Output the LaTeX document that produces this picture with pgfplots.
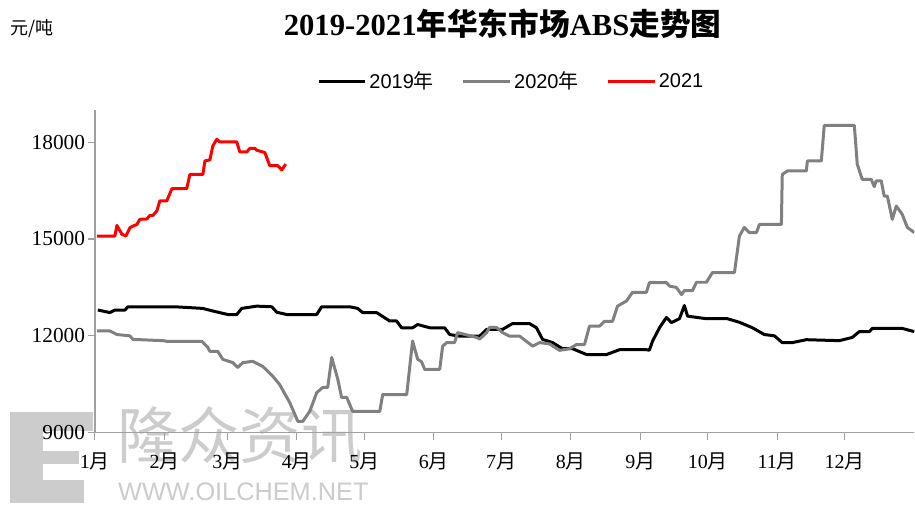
\documentclass[border=0pt]{standalone}
\usepackage{pgfplots}
\pgfplotsset{compat=1.18}
\usepackage{fontspec}
\setmainfont{Liberation Serif}
\newfontfamily\cjk{Noto Sans CJK SC}
\newfontfamily\lsans{Liberation Sans}
\definecolor{axgray}{RGB}{160,160,160}
\definecolor{s19}{RGB}{0,0,0}
\definecolor{s20}{RGB}{128,128,128}
\definecolor{s21}{RGB}{255,0,0}
\definecolor{wm}{RGB}{204,204,204}
\newcommand{\yue}{{\cjk 月}}
\begin{document}
\begin{tikzpicture}
\begin{scope}[x=0.75pt,y=-0.75pt,shift={(-71.25pt,324.75pt)}]
\path[use as bounding box] (0,0) rectangle (915,510);
% watermark logo
\fill[wm] (10,412) rectangle (93,431);
\fill[wm] (10,412) rectangle (43,503);
\fill[wm] (43,451) rectangle (79,464);
\fill[wm] (10,480) rectangle (84,503);
\node[anchor=west, text=wm, font=\cjk\fontsize{46pt}{46pt}\selectfont, inner sep=0pt] at (117,436) {隆众资讯};
\node[anchor=west, text=wm, font=\lsans\fontsize{19pt}{19pt}\selectfont, inner sep=0pt] at (118,492) {WWW.OILCHEM.NET};
\end{scope}
\begin{axis}[
  at={(0pt,0pt)}, anchor=south west, scale only axis,
  width=615pt, height=242.25pt,
  xmin=0, xmax=365, ymin=9000, ymax=19000,
  axis x line*=bottom, axis y line*=left,
  axis line style={-, draw=axgray, line width=1.1pt},
  xtick={0,31,59,90,120,151,181,212,243,273,304,334},
  xticklabels={1\yue,2\yue,3\yue,4\yue,5\yue,6\yue,7\yue,8\yue,9\yue,10\yue,11\yue,12\yue},
  ytick={9000,12000,15000,18000},
  scaled y ticks=false,
  tick align=outside, major tick length=5.25pt,
  tick style={draw=axgray, line width=0.8pt},
  /pgf/number format/assume math mode=true,
  /pgf/number format/1000 sep={},
  yticklabel style={font=\fontsize{16pt}{16pt}\selectfont, anchor=east, inner sep=0pt, xshift=-2pt},
  xticklabel style={font=\fontsize{15pt}{15pt}\selectfont, anchor=north, inner sep=0pt, yshift=-10pt},
  legend columns=3,
  legend style={at={(axis description cs:0.5085,1.088)}, anchor=center, draw=none, fill=none,
    font=\lsans\fontsize{15pt}{15pt}\selectfont,
    /tikz/every even column/.append style={column sep=19pt}},
  legend image code/.code={\draw[#1] (0pt,0pt) -- (35pt,0pt);},
  every axis plot/.append style={line width=2.25pt, line join=round, sharp plot},
]
\addplot[s19] coordinates {
(1.3,12800)(6.7,12720)(8.9,12800)(13.4,12800)(14.7,12900)(35.6,12900)(48,12850)
(52.5,12770)(59.2,12660)(63.2,12660)(65.4,12850)(72.1,12920)(78.8,12900)(81,12730)
(85.5,12660)(98.8,12660)(101,12900)(113.5,12900)(117,12850)(119.3,12720)(125.5,12720)
(131.3,12460)(134.4,12460)(136.6,12250)(141.5,12250)(143.8,12350)(149.1,12250)(155.8,12250)
(158,12040)(162.5,11990)(171.4,11990)(174.5,12200)(181.6,12200)(186,12380)(193.6,12380)
(196.7,12250)(199.4,11890)(203.9,11790)(208.3,11600)(212.8,11600)(219,11420)(227.9,11420)
(233.7,11570)(245.7,11570)(247,11555)(248.4,11835)(251.5,12250)(254.6,12570)(256.8,12410)
(260.4,12530)(262.6,12940)(264,12610)(272.4,12530)(281.8,12530)(287.1,12420)(292.9,12250)
(298.2,12040)(302.7,12000)(306.2,11790)(310.7,11790)(316.9,11880)(331.6,11850)(337.4,11950)
(340.5,12130)(345,12130)(346.3,12230)(359.6,12230)(365,12130)
};
\addlegendentry{2019{\cjk 年}}
\addplot[s20] coordinates {
(0.9,12150)(6.7,12150)(9.8,12040)(15.6,12000)(16.9,11890)(30.3,11850)(32,11830)(47.6,11830)
(50.3,11640)(51.2,11520)(54.7,11520)(57,11270)(61.4,11170)(63.6,11020)(65.9,11170)(70.3,11210)
(74.8,11050)(79.2,10750)(82.3,10490)(86.8,9930)(90.4,9350)(92.6,9350)(95.7,9660)(98.8,10240)
(101.5,10400)(103.7,10400)(105.5,11330)(108.2,10650)(109.9,10090)(112.2,10090)(114.8,9660)
(126.9,9660)(128.2,10180)(138.9,10180)(141.5,11840)(143.8,11270)(145.5,11200)(146.9,10960)
(153.6,10960)(154.9,11680)(156.7,11790)(160.2,11790)(161.6,12100)(170,11950)(171.4,11900)
(174.5,12100)(175.8,12260)(178.9,12260)(181.6,12100)(184.7,11990)(189.2,11990)(195,11680)
(198.1,11790)(202.5,11750)(207,11550)(211.4,11600)(214.5,11730)(218.1,11730)(220.3,12300)
(224.8,12300)(227,12450)(230.6,12450)(232.8,12920)(236.8,13080)(239.5,13350)(245.7,13350)
(247,13650)(254.6,13650)(256,13540)(259,13500)(261.3,13280)(262.6,13400)(266.2,13400)
(268,13660)(272.4,13660)(275.1,13960)(284.9,13960)(287.1,15090)(289.3,15360)(291.5,15200)
(294.7,15200)(296,15450)(305.8,15450)(306.2,17000)(308.5,17110)(316.9,17110)(317.4,17420)
(323.6,17420)(324.9,18520)(338.3,18520)(339.6,17320)(341.8,16850)(345.8,16850)(347.2,16620)
(348,16800)(350.3,16800)(351.6,16330)(353,16330)(355.2,15610)(357,16020)(359.6,15770)
(361.9,15360)(365,15200)
};
\addlegendentry{2020{\cjk 年}}
\addplot[s21] coordinates {
(0.9,15090)(8.9,15090)(9.8,15420)(12,15150)(13.8,15090)(15.6,15350)(16.9,15400)(18.7,15450)
(20,15610)(23.1,15620)(24.5,15730)(25.8,15730)(27.6,15870)(28.9,16180)(32,16180)(34.3,16560)
(40.9,16560)(42.3,17000)(48.1,17000)(49,17420)(51.2,17450)(52.5,17880)(54.3,18090)(55.6,18010)
(63.2,18010)(64.5,17700)(67.7,17700)(69,17810)(71.2,17810)(72.1,17750)(75.7,17680)(77.9,17270)
(81.5,17270)(83.2,17140)(85,17320)
};
\addlegendentry{2021}
\end{axis}
\begin{scope}[x=0.75pt,y=-0.75pt,shift={(-71.25pt,324.75pt)}]
\node[font=\fontsize{23pt}{23pt}\selectfont\bfseries, inner sep=0pt] at (503,24)
  {2019-2021{\cjk\bfseries 年华东市场}ABS{\cjk\bfseries 走势图}};
\node[font=\cjk\fontsize{13.5pt}{13.5pt}\selectfont, anchor=west, inner sep=0pt] at (10,29) {元/吨};
\end{scope}
\end{tikzpicture}
\end{document}
